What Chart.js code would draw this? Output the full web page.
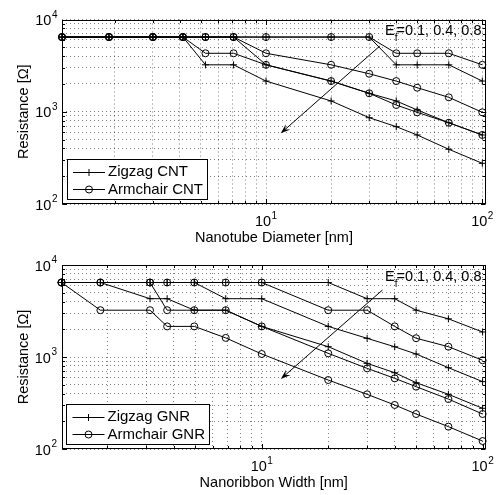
<!DOCTYPE html>
<html>
<head>
<meta charset="utf-8">
<script src="https://cdn.jsdelivr.net/npm/chart.js@4/dist/chart.umd.min.js"></script>
<style>
  html, body { margin: 0; padding: 0; background: #fff; }
  #wrap { position: relative; width: 499px; height: 495px; }
  canvas { position: absolute; left: 0; }
</style>
</head>
<body>
<div id="wrap">
  <canvas id="cnt" width="499" height="245" style="top:0px"></canvas>
  <canvas id="gnr" width="499" height="250" style="top:245px"></canvas>
</div>
<script>
// x positions [nm]
var cntDiam  = [1.14, 1.88, 3.0, 4.13, 5.25, 7.08, 10, 20, 30, 40, 50, 70, 100];
var gnrWidth = [1.24, 1.86, 3.12, 3.73, 4.95, 6.87, 10, 20, 30, 40, 50, 70, 100];

// resistance [ohm], Ef = 0.1, 0.4, 0.8
var zzCnt01 = [6453, 6453, 6453, 6453, 6453, 6453, 6453, 6453, 6453, 3227, 3227, 3227, 2151];
var acCnt01 = [6453, 6453, 6453, 6453, 6453, 6453, 6453, 6453, 6453, 4302, 4302, 4302, 3227];
var zzCnt04 = [6453, 6453, 6453, 6453, 6453, 6453, 3227, 2151, 1585, 1309, 1045, 760, 560];
var acCnt04 = [6453, 6453, 6453, 6453, 6453, 6453, 4302, 3227, 2581, 2151, 1823, 1433, 986];
var zzCnt08 = [6453, 6453, 6453, 6453, 3227, 3227, 2151, 1309, 862, 689, 560, 392, 276];
var acCnt08 = [6453, 6453, 6453, 6453, 4302, 4302, 3227, 2151, 1585, 1183, 986, 760, 560];

var zzGnr01 = [6453, 6453, 6453, 6453, 6453, 6453, 6453, 6453, 4302, 4302, 3227, 2600, 1870];
var acGnr01 = [6453, 6453, 6453, 6453, 6453, 6453, 6453, 3227, 3227, 2151, 1600, 1294, 922];
var zzGnr04 = [6453, 6453, 6453, 6453, 6453, 4302, 4302, 2151, 1596, 1291, 1078, 765, 540];
var acGnr04 = [6453, 6453, 6453, 3227, 3227, 3227, 2151, 1096, 753, 586, 476, 349, 240];
var zzGnr08 = [6453, 6453, 4302, 4302, 3227, 3227, 2151, 1294, 853, 675, 526, 393, 277];
var acGnr08 = [6453, 3227, 3227, 2151, 2151, 1613, 1078, 562, 393, 301, 240, 175, 122];

var xTickVals = [2, 3, 4, 5, 6, 7, 8, 9, 10, 20, 30, 40, 50, 60, 70, 80, 90, 100];
var yTickVals = [100, 200, 300, 400, 500, 600, 700, 800, 900, 1000, 2000, 3000, 4000, 5000, 6000, 7000, 8000, 9000, 10000];
var xMajor = [10, 100];
var yMajor = [100, 1000, 10000];

var cntLegend = ['Zigzag CNT', 'Armchair CNT'];
var gnrLegend = ['Zigzag GNR', 'Armchair GNR'];
var yTitle = 'Resistance [\u03a9]';
var efLabel = ['E', 'f', '=0.1, 0.4, 0.8'];

var FONT = "'Liberation Sans', Arial, Helvetica, sans-serif";

function pts(xs, ys) {
  return xs.map(function (x, i) { return { x: x, y: ys[i] }; });
}

function series(xs, ys, style) {
  return {
    data: pts(xs, ys),
    borderColor: '#000',
    borderWidth: 1,
    pointStyle: style,
    pointRadius: 3.5,
    pointHoverRadius: 3.5,
    pointBorderWidth: 1,
    pointBorderColor: '#000',
    pointBackgroundColor: 'rgba(0,0,0,0)',
    fill: false,
    tension: 0,
    clip: false
  };
}

function drawPower(ctx, exp, x, baseY, supY, anchor) {
  ctx.font = '14.5px ' + FONT;
  var w1 = ctx.measureText('10').width;
  ctx.font = '10px ' + FONT;
  var w2 = ctx.measureText(String(exp)).width;
  var total = w1 + w2 + 0.5;
  var start = anchor === 'center' ? x - total / 2 : x - total;
  ctx.font = '14.5px ' + FONT;
  ctx.fillText('10', start, baseY);
  ctx.font = '10px ' + FONT;
  ctx.fillText(String(exp), start + w1 + 0.5, supY);
}

function drawMarker(ctx, style, x, y) {
  ctx.beginPath();
  if (style === 'cross') {
    ctx.moveTo(x - 3.5, y); ctx.lineTo(x + 3.5, y);
    ctx.moveTo(x, y - 3.5); ctx.lineTo(x, y + 3.5);
  } else {
    ctx.arc(x, y, 3.5, 0, Math.PI * 2);
  }
  ctx.stroke();
}

var matlabAxes = {
  id: 'matlabAxes',
  afterDraw: function (chart, args, o) {
    var ctx = chart.ctx, a = chart.chartArea;
    var xs = chart.scales.x, ys = chart.scales.y;
    var L = Math.round(a.left) + 0.5, R = Math.round(a.right) - 0.5;
    var T = Math.round(a.top) + 0.5, B = Math.round(a.bottom) - 0.5;
    ctx.save();
    ctx.strokeStyle = '#000';
    ctx.fillStyle = '#000';
    ctx.lineWidth = 1;

    // inner tick marks
    ctx.beginPath();
    xTickVals.forEach(function (v) {
      var p = Math.round(xs.getPixelForValue(v)) + 0.5;
      var len = xMajor.indexOf(v) >= 0 ? 4.5 : 2.5;
      ctx.moveTo(p, B); ctx.lineTo(p, B - len);
      ctx.moveTo(p, T); ctx.lineTo(p, T + len);
    });
    yTickVals.forEach(function (v) {
      var p = Math.round(ys.getPixelForValue(v)) + 0.5;
      var len = yMajor.indexOf(v) >= 0 ? 4.5 : 2.5;
      ctx.moveTo(L, p); ctx.lineTo(L + len, p);
      ctx.moveTo(R, p); ctx.lineTo(R - len, p);
    });
    ctx.stroke();

    // box
    ctx.strokeRect(L, T, R - L, B - T);

    // tick labels
    ctx.textBaseline = 'alphabetic';
    ctx.textAlign = 'left';
    xMajor.forEach(function (v) {
      drawPower(ctx, Math.round(Math.log10(v)), xs.getPixelForValue(v), a.bottom + 22, a.bottom + 14.5, 'center');
    });
    yMajor.forEach(function (v) {
      var p = ys.getPixelForValue(v);
      drawPower(ctx, Math.round(Math.log10(v)), a.left - 4.5, p + 5.5, p - 2, 'right');
    });

    // axis titles
    ctx.font = '14.5px ' + FONT;
    ctx.textAlign = 'center';
    ctx.fillText(o.xTitle, (a.left + a.right) / 2, a.bottom + 37.5);
    ctx.save();
    ctx.translate(27.5, (a.top + a.bottom) / 2);
    ctx.rotate(-Math.PI / 2);
    ctx.fillText(yTitle, 0, 0);
    ctx.restore();

    // Ef annotation text
    ctx.textAlign = 'left';
    ctx.font = '14.5px ' + FONT;
    var wE = ctx.measureText(efLabel[0]).width;
    var wRest = ctx.measureText(efLabel[2]).width;
    ctx.font = '10px ' + FONT;
    var wf = ctx.measureText(efLabel[1]).width;
    var ex = a.right - 4.5 - (wE + wf + wRest - 1);
    var ey = a.top + 15.5;
    ctx.font = '14.5px ' + FONT;
    ctx.fillText(efLabel[0], ex, ey);
    ctx.font = '10px ' + FONT;
    ctx.fillText(efLabel[1], ex + wE, ey + 6);
    ctx.font = '14.5px ' + FONT;
    ctx.fillText(efLabel[2], ex + wE + wf - 1, ey);

    // arrow (data coordinates)
    var x0 = xs.getPixelForValue(o.arrow[0]), y0 = ys.getPixelForValue(o.arrow[1]);
    var x1 = xs.getPixelForValue(o.arrow[2]), y1 = ys.getPixelForValue(o.arrow[3]);
    var dx = x1 - x0, dy = y1 - y0, d = Math.sqrt(dx * dx + dy * dy);
    var ux = dx / d, uy = dy / d, nx = -uy, ny = ux;
    var hl = 10, hw = 3.5;
    var bx = x1 - ux * hl, by = y1 - uy * hl;
    var kx = x1 - ux * hl * 0.6, ky = y1 - uy * hl * 0.6;
    ctx.beginPath();
    ctx.moveTo(x0, y0); ctx.lineTo(kx, ky);
    ctx.stroke();
    ctx.beginPath();
    ctx.moveTo(x1, y1);
    ctx.lineTo(bx + nx * hw, by + ny * hw);
    ctx.lineTo(kx, ky);
    ctx.lineTo(bx - nx * hw, by - ny * hw);
    ctx.closePath();
    ctx.fill();

    // legend
    ctx.font = '15px ' + FONT;
    var tw = Math.max(ctx.measureText(o.legend[0]).width, ctx.measureText(o.legend[1]).width);
    var lx = a.left + 4.7, ly = a.bottom - 44.7, lh = 39.7;
    var lw = 46 - 4.7 + tw + 4;
    ctx.fillStyle = '#fff';
    ctx.fillRect(lx, ly, lw, lh);
    ctx.fillStyle = '#000';
    ctx.strokeRect(Math.round(lx) + 0.5, Math.round(ly) + 0.5, Math.round(lw), Math.round(lh));
    var styles = ['cross', 'circle'];
    var rows = [a.bottom - 32.3, a.bottom - 15];
    ctx.textBaseline = 'middle';
    ctx.textAlign = 'left';
    for (var i = 0; i < 2; i++) {
      var ry = Math.round(rows[i]) + 0.5;
      ctx.beginPath();
      ctx.moveTo(a.left + 11, ry); ctx.lineTo(a.left + 43, ry);
      ctx.stroke();
      drawMarker(ctx, styles[i], a.left + 27, ry);
      ctx.fillText(o.legend[i], a.left + 46, rows[i] + 0.5);
    }
    ctx.restore();
  }
};

function makeChart(id, xs, sets, xMin, xMax, padTop, padBottom, yWidth, opts) {
  var ctx = document.getElementById(id).getContext('2d');
  return new Chart(ctx, {
    type: 'line',
    data: {
      datasets: [
        series(xs, sets[0], 'cross'),
        series(xs, sets[1], 'circle'),
        series(xs, sets[2], 'cross'),
        series(xs, sets[3], 'circle'),
        series(xs, sets[4], 'cross'),
        series(xs, sets[5], 'circle')
      ]
    },
    options: {
      responsive: false,
      animation: false,
      devicePixelRatio: 1,
      layout: { padding: { left: 0, right: 13, top: padTop, bottom: padBottom } },
      plugins: {
        legend: { display: false },
        tooltip: { enabled: false },
        matlabAxes: opts
      },
      scales: {
        x: {
          type: 'logarithmic',
          min: xMin,
          max: xMax,
          afterBuildTicks: function (s) { s.ticks = xTickVals.map(function (v) { return { value: v }; }); },
          afterFit: function (s) { s.height = 0; },
          ticks: { display: false },
          grid: { color: 'rgba(0,0,0,0.5)', lineWidth: 1, drawTicks: false },
          border: { display: false, dash: [1, 3] }
        },
        y: {
          type: 'logarithmic',
          min: 100,
          max: 10000,
          afterBuildTicks: function (s) { s.ticks = yTickVals.map(function (v) { return { value: v }; }); },
          afterFit: function (s) { s.width = yWidth; },
          ticks: { display: false },
          grid: { color: 'rgba(0,0,0,0.5)', lineWidth: 1, drawTicks: false },
          border: { display: false, dash: [1, 3] }
        }
      }
    },
    plugins: [matlabAxes]
  });
}

makeChart('cnt', cntDiam, [zzCnt01, acCnt01, zzCnt04, acCnt04, zzCnt08, acCnt08],
  1.14, 104, 19.5, 41, 62,
  { xTitle: 'Nanotube Diameter [nm]', legend: cntLegend, arrow: [33.6, 5164, 11.69, 583] });

makeChart('gnr', gnrWidth, [zzGnr01, acGnr01, zzGnr04, acGnr04, zzGnr08, acGnr08],
  1.24, 103.6, 20, 46, 61.5,
  { xTitle: 'Nanoribbon Width [nm]', legend: gnrLegend, arrow: [35.2, 5346, 12.2, 577] });
</script>
</body>
</html>
